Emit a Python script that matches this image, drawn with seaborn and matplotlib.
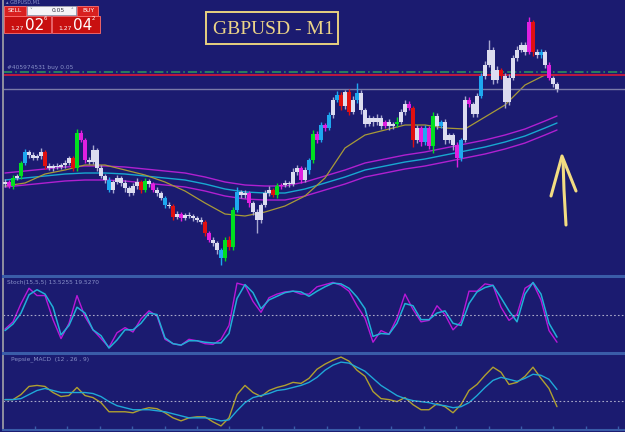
import matplotlib
matplotlib.use("Agg")
import matplotlib.pyplot as plt
from matplotlib.patches import Rectangle
from matplotlib.lines import Line2D
import numpy as np
import pandas as pd
import seaborn as sns

# ---- price data (points above BASE) ----
BASE = 1.26840
POINT = 0.00001
FIRST_OPEN = 91

close_pts = [93, 89, 97, 99, 112, 123, 120, 117, 119, 123,
             109, 107, 109, 108, 110, 112, 117, 107, 142, 135,
             115, 113, 125, 107, 99, 95, 85, 93, 97, 92,
             87, 82, 89, 93, 85, 94, 91, 85, 82, 77,
             70, 69, 58, 61, 57, 60, 59, 57, 55, 53,
             42, 35, 32, 25, 17, 35, 28, 65, 83, 80,
             82, 72, 63, 55, 70, 82, 85, 80, 89, 90,
             92, 91, 103, 107, 95, 105, 115, 141, 135, 150,
             147, 160, 175, 180, 169, 183, 163, 175, 182, 165,
             151, 157, 153, 157, 149, 153, 149, 151, 153, 163,
             171, 167, 135, 147, 133, 147, 129, 159, 149, 153,
             135, 140, 130, 117, 135, 175, 171, 161, 179, 199,
             210, 225, 195, 205, 199, 173, 197, 217, 225, 230,
             223, 253, 223, 220, 223, 210, 197, 191, 186]

wick_up = [3, 2, 3, 2, 2, 3, 2, 3, 2, 4,
           2, 3, 2, 3, 2, 3, 2, 2, 4, 3,
           2, 3, 5, 2, 3, 2, 3, 2, 3, 2,
           3, 2, 3, 4, 2, 3, 2, 2, 3, 2,
           2, 3, 2, 3, 2, 2, 3, 2, 2, 3,
           2, 2, 3, 2, 2, 3, 4, 3, 5, 2,
           3, 2, 2, 3, 2, 3, 4, 2, 3, 2,
           3, 2, 4, 3, 2, 3, 2, 4, 3, 3,
           2, 3, 3, 4, 3, 2, 3, 4, 10, 3,
           2, 3, 2, 4, 3, 2, 3, 2, 5, 3,
           4, 3, 2, 3, 2, 3, 2, 4, 3, 2,
           3, 2, 2, 3, 2, 4, 3, 2, 3, 3,
           4, 10, 3, 4, 2, 3, 4, 3, 4, 3,
           3, 5, 2, 3, 3, 2, 3, 2, 2]

wick_dn = [3, 2, 3, 2, 3, 2, 3, 2, 2, 3,
           3, 2, 3, 2, 2, 3, 2, 3, 3, 2,
           3, 2, 2, 3, 2, 3, 2, 3, 2, 3,
           4, 3, 2, 3, 3, 2, 3, 2, 3, 2,
           3, 2, 3, 2, 3, 2, 2, 3, 2, 2,
           3, 2, 3, 4, 7, 3, 3, 3, 2, 3,
           3, 4, 3, 13, 3, 2, 3, 2, 3, 3,
           2, 3, 2, 3, 3, 2, 4, 3, 3, 2,
           3, 2, 3, 2, 4, 3, 3, 2, 3, 4,
           3, 2, 4, 3, 3, 2, 4, 3, 3, 2,
           3, 2, 7, 3, 4, 3, 3, 7, 3, 2,
           4, 3, 5, 9, 3, 2, 3, 3, 3, 2,
           3, 2, 4, 3, 3, 6, 3, 2, 3, 2,
           3, 2, 4, 3, 3, 3, 2, 3, 3]

candle_codes = ("wmgwgbwwww" "rwwwwwwrgm" "mwwwwwbwww" "wwwwrgwmww"
                "bwrwmwwwww" "rmwwbgrgbw" "wmwwwwwrgm" "wwwwmwbgmb"
                "mbwbrwrwbw" "wwwwwmwwgw" "wmrwmbmgwb" "wwwmbwmwwb"
                "wwwwrwwwww" "wmrwbwmww")

# ---- moving averages (sampled every 5 bars) ----
ma_idx = [0, 5, 10, 15, 20, 25, 30, 35, 40, 45, 50, 55, 60, 65, 70,
          75, 80, 85, 90, 95, 100, 105, 110, 115, 120, 125, 130, 135, 138]
ma_slow_pts = [89, 92, 101, 105, 110, 110, 105, 100, 93, 84, 72, 61, 59, 63, 69,
               79, 97, 127, 140, 145, 150, 150, 147, 146, 158, 170, 190, 200, 200]
env_mid_pts = [95, 97, 99, 101, 102, 102, 101, 99, 97, 95, 91, 86, 83, 82, 82,
               86, 92, 98, 105, 109, 113, 116, 120, 124, 128, 133, 139, 147, 152]
env_up_pts = [102, 104, 106, 108, 109, 109, 108, 106, 104, 102, 98, 93, 90, 89, 89,
              93, 99, 105, 112, 116, 120, 123, 127, 131, 135, 140, 146, 154, 159]
env_dn_pts = [88, 90, 92, 94, 95, 95, 94, 92, 90, 88, 84, 79, 76, 75, 75,
              79, 85, 91, 98, 102, 106, 109, 113, 117, 121, 126, 132, 140, 145]

ORDER_PTS = 203
ASK_PTS = 200
BID_PTS = 186

# ---- indicators (sampled every 2 bars) ----
ind_idx = list(range(0, 139, 2))
stoch_main = [30, 40, 65, 86, 76, 76, 43, 17, 38, 76,
              47, 29, 17, 5, 25, 32, 26, 44, 55, 48,
              16, 10, 8, 16, 14, 10, 9, 16, 35, 93,
              90, 68, 53, 73, 78, 81, 82, 78, 78, 88,
              91, 94, 90, 82, 62, 45, 12, 28, 23, 45,
              78, 57, 40, 42, 62, 50, 29, 40, 82, 82,
              92, 90, 60, 42, 50, 86, 93, 70, 28, 12]
stoch_signal = [28, 37, 52, 77, 84, 78, 60, 22, 35, 60,
                52, 29, 21, 4, 15, 29, 29, 38, 52, 50,
                18, 10, 8, 14, 14, 12, 11, 11, 24, 72,
                91, 80, 58, 70, 75, 80, 82, 81, 75, 82,
                88, 93, 92, 86, 74, 58, 20, 24, 23, 38,
                65, 62, 43, 43, 52, 55, 38, 35, 65, 81,
                87, 90, 73, 55, 40, 78, 94, 78, 38, 19]
MACD_UNIT = 1e-6
macd_main = [1, 1, 6, 14, 15, 14, 8, 4, 5, 13,
             5, 3, -2, -11, -11, -11, -12, -9, -7, -8,
             -12, -17, -20, -17, -16, -16, -21, -25, -17, 6,
             15, 8, 4, 10, 13, 15, 18, 17, 22, 31,
             36, 40, 43, 39, 30, 24, 9, 2, 1, -1,
             3, -4, -9, -9, -3, -6, -12, -4, 10, 16,
             25, 33, 28, 16, 18, 24, 33, 22, 12, -6]
macd_signal = [1, 1, 2, 6, 10, 12, 10, 8, 8, 8,
               8, 7, 4, -1, -5, -7, -9, -9, -9, -10,
               -11, -13, -15, -17, -17, -17, -18, -20, -19, -10,
               -2, 3, 5, 7, 10, 11, 13, 15, 18, 23,
               30, 35, 38, 37, 33, 29, 22, 15, 10, 5,
               2, 0, -1, -2, -4, -5, -7, -6, -2, 5,
               13, 20, 23, 21, 19, 22, 26, 25, 21, 11]

BG = "#1b1b70"
SEP = "#3a5ca8"
COLORS = {"w": "#dcdcf0", "g": "#00e020", "r": "#e01010", "b": "#1ea8f0", "m": "#e020e0"}

W, H = 625, 432


def fx(px):
    return px / W


def fy(py):
    return 1 - py / H


sns.set_theme(style="dark")
plt.rcParams["font.family"] = ["DejaVu Sans"]

fig = plt.figure(figsize=(6.25, 4.32), dpi=100, facecolor=BG)
ax = fig.add_axes([fx(3), fy(275), fx(622), 275 / H])
ax_st = fig.add_axes([fx(3), fy(352), fx(622), 76 / H])
ax_md = fig.add_axes([fx(3), fy(430), fx(622), 77 / H])

price = lambda v: BASE + np.asarray(v) * POINT

# candles
closes = np.array(close_pts)
opens = np.array([FIRST_OPEN] + close_pts[:-1])
idx = np.arange(len(closes))
highs = np.maximum(opens, closes) + np.array(wick_up)
lows = np.minimum(opens, closes) - np.array(wick_dn)
cols = [COLORS[c] for c in candle_codes]
wick_cols = ["#a8a8d0" if c == "w" else COLORS[c] for c in candle_codes]
ax.vlines(idx, price(lows), price(highs), colors=wick_cols, linewidth=1.0, zorder=3)
body_lo = np.minimum(opens, closes)
body_h = np.maximum(np.abs(closes - opens), 1)
ax.bar(idx, body_h * POINT, bottom=price(body_lo), width=0.78, color=cols,
       linewidth=0, zorder=4)

ma = pd.DataFrame({"bar": ma_idx, "slow": price(ma_slow_pts), "mid": price(env_mid_pts),
                   "up": price(env_up_pts), "dn": price(env_dn_pts)})
sns.lineplot(data=ma, x="bar", y="up", ax=ax, color="#b020d0", linewidth=1.0)
sns.lineplot(data=ma, x="bar", y="dn", ax=ax, color="#b020d0", linewidth=1.0)
sns.lineplot(data=ma, x="bar", y="mid", ax=ax, color="#18a8d0", linewidth=1.0)
sns.lineplot(data=ma, x="bar", y="slow", ax=ax, color="#a89a38", linewidth=0.9)

ax.axhline(price(ORDER_PTS), color="#2e9a5a", linestyle=(0, (6, 2, 1, 2)), linewidth=1.1)
ax.axhline(price(ASK_PTS), color="#c8183c", linewidth=1.3)
ax.axhline(price(BID_PTS), color="#7a7aa8", linewidth=1.0)
ax.text(0.5, price(ORDER_PTS + 1.5), "#405974531 buy 0.05", color="#8890c8", fontsize=4.2,
        va="bottom", ha="left")

ax.set_xlim(-0.5, 155)
ax.set_ylim(BASE, BASE + 275 * POINT)

# stochastic
st = pd.DataFrame({"bar": ind_idx, "main": stoch_main, "signal": stoch_signal})
sns.lineplot(data=st, x="bar", y="main", ax=ax_st, color="#b818d8", linewidth=1.0)
sns.lineplot(data=st, x="bar", y="signal", ax=ax_st, color="#20b0d8", linewidth=1.1)
ax_st.axhline(50, color="#a8a8c8", linestyle=(0, (1.5, 2)), linewidth=0.8)
ax_st.set_xlim(-0.5, 155)
ax_st.set_ylim(-1.4, 102.8)
ax_st.text(0.5, 98, "Stoch(15,5,5) 13.5255 19.5270", color="#8890c8", fontsize=4.2, va="top")

# macd
md = pd.DataFrame({"bar": ind_idx, "main": np.array(macd_main) * MACD_UNIT,
                   "signal": np.array(macd_signal) * MACD_UNIT})
sns.lineplot(data=md, x="bar", y="main", ax=ax_md, color="#b0a030", linewidth=1.0)
sns.lineplot(data=md, x="bar", y="signal", ax=ax_md, color="#20a8d8", linewidth=1.0)
ax_md.axhline(0, color="#a8a8c8", linestyle=(0, (1.5, 2)), linewidth=0.8)
ax_md.set_xlim(-0.5, 155)
ax_md.set_ylim(-29 * MACD_UNIT, 47 * MACD_UNIT)
ax_md.text(1.5, 44 * MACD_UNIT, "Pepsie_MACD  (12 , 26 , 9)", color="#8890c8", fontsize=4.2, va="top")

for a in (ax, ax_st, ax_md):
    a.set_facecolor(BG)
    a.set_xlabel("")
    a.set_ylabel("")
    a.set_yticks([])
    a.grid(False)
    for s in a.spines.values():
        s.set_visible(False)
    a.spines["left"].set_visible(True)
    a.spines["left"].set_color("#9090a0")
    a.spines["left"].set_linewidth(1.4)
for a in (ax_st, ax_md):
    a.spines["top"].set_visible(True)
    a.spines["top"].set_color(SEP)
    a.spines["top"].set_linewidth(2.2)
ax.set_xticks([])
ax_st.set_xticks([])
ax_md.spines["bottom"].set_visible(True)
ax_md.spines["bottom"].set_color(SEP)
ax_md.spines["bottom"].set_linewidth(1.5)
ax_md.set_xticks(np.arange(7.5, 155, 8.1))
ax_md.tick_params(axis="x", direction="in", length=3, color=SEP, width=1, labelbottom=False,
                  bottom=True)

# title box
fig.patches.append(Rectangle((fx(206), fy(44)), fx(132), 32 / H, transform=fig.transFigure,
                             fill=False, edgecolor="#e8d080", linewidth=1.4))
fig.text(fx(273), fy(29), "GBPUSD - M1", color="#ecd488", fontsize=14,
         family="Liberation Serif", ha="center", va="center")

# one-click trading panel
def box(x0, y0, x1, y1, fc, ec="#ff7070"):
    fig.patches.append(Rectangle((fx(x0), fy(y1)), fx(x1 - x0), (y1 - y0) / H,
                                 transform=fig.transFigure, facecolor=fc, edgecolor=ec,
                                 linewidth=0.6))

box(4, 6, 26, 16, "#d82020")
box(27, 6, 76, 15, "#f4f4f8", "#a0a0b0")
box(77, 6, 98, 16, "#d82020")
box(4, 16, 51, 33, "#c81010")
box(52, 16, 100, 33, "#c81010")
fig.text(fx(15), fy(11), "SELL", color="white", fontsize=4.3, ha="center", va="center")
fig.text(fx(88), fy(11), "BUY", color="white", fontsize=4.3, ha="center", va="center")
fig.text(fx(65), fy(10.5), "0.05", color="#303040", fontsize=4.3, ha="right", va="center")
fig.text(fx(31), fy(10.5), "\u02c5", color="#606070", fontsize=4, ha="center", va="center")
fig.text(fx(72), fy(10.5), "\u02c4", color="#606070", fontsize=4, ha="center", va="center")
fig.text(fx(10), fy(28.5), "1.27", color="white", fontsize=4.3, ha="left", va="center")
fig.text(fx(25), fy(25.5), "02", color="white", fontsize=11, ha="left", va="center")
fig.text(fx(44), fy(18.5), "6", color="white", fontsize=3.8, ha="left", va="center")
fig.text(fx(58), fy(28.5), "1.27", color="white", fontsize=4.3, ha="left", va="center")
fig.text(fx(73), fy(25.5), "04", color="white", fontsize=11, ha="left", va="center")
fig.text(fx(92), fy(18.5), "2", color="white", fontsize=3.8, ha="left", va="center")
fig.text(fx(6), fy(2.2), "\u25b4 GBPUSD,M1", color="#8890c8", fontsize=3.6, ha="left", va="center")

# hand-drawn arrow
arrow_x = [fx(566), fx(564), fx(563)]
arrow_y = [fy(225), fy(190), fy(160)]
fig.lines.append(Line2D(arrow_x, arrow_y, transform=fig.transFigure, color="#f3dc82",
                        linewidth=2.2, solid_capstyle="round"))
fig.lines.append(Line2D([fx(551), fx(562), fx(576)], [fy(196), fy(156), fy(191)],
                        transform=fig.transFigure, color="#f3dc82", linewidth=2.2,
                        solid_capstyle="round", solid_joinstyle="round"))

fig.savefig("out.png", dpi=100, facecolor=BG)
